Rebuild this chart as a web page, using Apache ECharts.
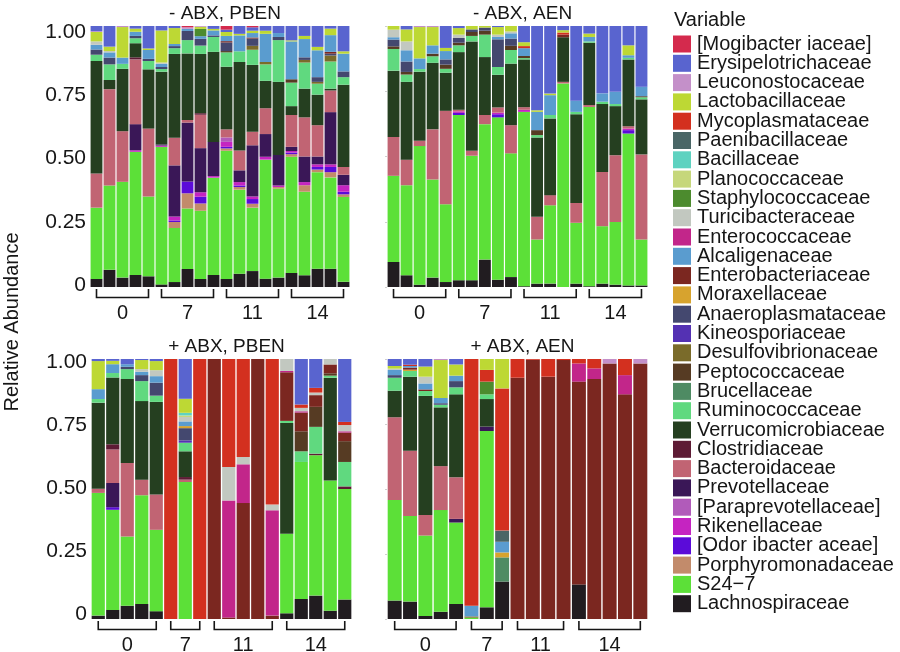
<!DOCTYPE html>
<html>
<head>
<meta charset="utf-8">
<script src="https://cdn.jsdelivr.net/npm/echarts@6/dist/echarts.min.js"></script>
<style>
  html, body { margin: 0; padding: 0; background: #fff; }
  #chart { width: 900px; height: 652px; }
</style>
</head>
<body>
<div id="chart"></div>
<script>
// legend order, top to bottom (bars stack the other way round)
const families = ['[Mogibacter iaceae]', 'Erysipelotrichaceae', 'Leuconostocaceae', 'Lactobacillaceae',
  'Mycoplasmataceae', 'Paenibacillaceae', 'Bacillaceae', 'Planococcaceae', 'Staphylococcaceae',
  'Turicibacteraceae', 'Enterococcaceae', 'Alcaligenaceae', 'Enterobacteriaceae', 'Moraxellaceae',
  'Anaeroplasmataceae', 'Kineosporiaceae', 'Desulfovibrionaceae', 'Peptococcaceae', 'Brucellaceae',
  'Ruminococcaceae', 'Verrucomicrobiaceae', 'Clostridiaceae', 'Bacteroidaceae', 'Prevotellaceae',
  '[Paraprevotellaceae]', 'Rikenellaceae', '[Odor ibacter aceae]', 'Porphyromonadaceae', 'S24\u22127',
  'Lachnospiraceae'];
const keys = ['mogib', 'erysip', 'leuco', 'lacto', 'myco', 'paenib', 'bacill', 'planoc', 'staph',
  'turic', 'enteroc', 'alcali', 'enterob', 'morax', 'anaero', 'kineo', 'desulf', 'pepto', 'brucel',
  'rumino', 'verru', 'clostr', 'bacter', 'prevot', 'parapr', 'riken', 'odori', 'porphy', 's24', 'lachno'];
const colors = ['#D42A4D', '#5964CF', '#C490C9', '#BDD834', '#D3301F', '#4A6666', '#5ED2C0', '#C6D77B',
  '#4C8B2E', '#C2C8C0', '#C2268A', '#5A9CCF', '#7B2720', '#D7A32E', '#44486F', '#5431B3', '#7A6B2A',
  '#563B23', '#4E8B63', '#60D97F', '#253F20', '#5E1B35', '#C16473', '#3A1757', '#B15BBA', '#C524C1',
  '#5B0BD9', '#C28B6B', '#5CE038', '#211C20'];

const dayLabels = ['0', '7', '11', '14'];

// - ABX, PBEN : 5,5,5,5 samples
const tlGroups = [5, 5, 5, 5];
const topLeft = {
  lachno: [0.031,0.066,0.036,0.046,0.041, 0.010,0.019,0.069,0.031,0.046, 0.031,0.051,0.061,0.032,0.036, 0.054,0.045,0.070,0.070,0.020],
  s24:    [0.273,0.323,0.367,0.472,0.306, 0.527,0.207,0.232,0.261,0.373, 0.491,0.322,0.243,0.456,0.341, 0.445,0.320,0.370,0.350,0.325],
  porphy: [0,0,0,0,0, 0,0.023,0.058,0.028,0, 0.009,0.010,0.015,0,0.006, 0.010,0.025,0.010,0.020,0.010],
  odori:  [0,0,0,0,0, 0,0.006,0.045,0.026,0, 0.006,0.006,0.018,0,0, 0.006,0,0.010,0.020,0.010],
  riken:  [0,0,0,0.006,0, 0.005,0.015,0,0.017,0.006, 0.019,0.013,0.010,0.011,0.006, 0.006,0.012,0.010,0.010,0.025],
  parapr: [0,0,0,0,0, 0,0,0,0,0, 0.017,0,0,0,0, 0,0,0,0,0],
  prevot: [0,0,0,0.100,0, 0.004,0.196,0.226,0.169,0.131, 0,0.045,0.196,0.087,0.117, 0.016,0.098,0.030,0.200,0.040],
  bacter: [0.131,0.369,0.194,0.248,0.260, 0,0.106,0.010,0.128,0, 0.031,0.076,0.052,0.099,0, 0.122,0.150,0.120,0.083,0.030],
  clostr: [0,0,0,0.008,0, 0,0,0,0.006,0, 0,0,0,0,0, 0,0,0,0,0],
  verru:  [0.431,0.035,0.239,0.054,0.227, 0.279,0.321,0.255,0.227,0.345, 0.240,0.339,0.256,0.105,0.280, 0.034,0.110,0.117,0.007,0.315],
  rumino: [0.024,0.060,0.019,0.019,0.032, 0.010,0.022,0.051,0.032,0.057, 0.055,0.041,0.058,0.063,0.160, 0.090,0.100,0.042,0.104,0.029],
  pepto:  [0,0,0,0,0, 0,0,0,0,0, 0.005,0,0,0,0, 0.013,0,0,0,0],
  desulf: [0,0,0,0,0, 0,0,0,0,0, 0,0,0.015,0.009,0, 0,0.010,0.007,0.023,0],
  anaero: [0.020,0.026,0,0.009,0.008, 0.008,0.008,0.035,0.026,0.006, 0.033,0,0.028,0,0.012, 0,0.010,0.018,0.007,0.022],
  enterob:[0,0,0,0,0, 0,0,0,0,0, 0.005,0,0.004,0,0, 0,0,0,0.007,0],
  alcali: [0.018,0.020,0.024,0.016,0.034, 0.012,0.008,0.008,0.010,0.019, 0.020,0.061,0.017,0.108,0.015, 0.145,0.070,0.103,0.064,0.068],
  turic:  [0.013,0.005,0,0,0, 0.005,0,0,0,0, 0,0,0,0,0, 0,0,0,0,0],
  staph:  [0,0,0,0,0, 0,0,0,0.028,0, 0,0,0,0,0, 0,0,0,0,0],
  lacto:  [0.036,0.017,0.117,0.012,0.006, 0.123,0.061,0,0.008,0.006, 0.015,0.006,0.009,0.012,0, 0.004,0.012,0.013,0.025,0.009],
  leuco:  [0.003,0,0.004,0,0, 0,0,0.006,0.003,0, 0,0,0,0,0, 0,0,0,0,0],
  erysip: [0.020,0.079,0,0.010,0.086, 0.017,0.008,0,0,0.011, 0.009,0.030,0.013,0.018,0.027, 0.055,0.038,0.080,0.010,0.097],
  mogib:  [0,0,0,0,0, 0,0,0.005,0,0, 0.014,0,0.005,0,0, 0,0,0,0,0]
};

// - ABX, AEN : 5,5,5,5 samples
const trGroups = [5, 5, 5, 5];
const topRight = {
  lachno: [0.096,0.045,0.009,0.036,0.019, 0.026,0.026,0.105,0.028,0.038, 0.003,0.013,0.013,0,0.013, 0.003,0.013,0.009,0.006,0.006],
  s24:    [0.330,0.345,0.531,0.376,0.298, 0.633,0.477,0.519,0.622,0.474, 0.668,0.169,0.300,0.780,0.233, 0.687,0.220,0.240,0.582,0.176],
  odori:  [0,0,0,0,0, 0.008,0,0,0.012,0, 0,0,0,0,0, 0,0,0,0.013,0],
  riken:  [0,0,0,0,0, 0.006,0,0,0.006,0, 0.008,0,0,0,0, 0,0,0,0.006,0],
  bacter: [0.149,0.098,0.020,0.192,0.358, 0.006,0.019,0.035,0.020,0.108, 0.010,0.087,0.039,0.006,0.076, 0.007,0.208,0.256,0.009,0.326],
  verru:  [0.254,0.298,0.265,0.255,0.146, 0.221,0.419,0.222,0.125,0.236, 0.183,0.304,0.294,0.171,0.340, 0.239,0.260,0.188,0.256,0.211],
  rumino: [0.083,0.028,0.010,0.025,0.015, 0.026,0.021,0.086,0.030,0.052, 0.005,0.009,0.013,0,0.009, 0.005,0.009,0.008,0.006,0.008],
  pepto:  [0.010,0.010,0,0.010,0.016, 0.010,0.015,0.015,0,0.016, 0.008,0.019,0,0,0, 0,0,0,0,0.004],
  anaero: [0.026,0.040,0,0,0.020, 0.018,0.010,0.012,0.106,0.028, 0,0,0,0,0, 0,0,0,0,0],
  enterob:[0,0,0,0,0, 0,0,0,0,0, 0,0,0,0.010,0, 0,0,0,0,0],
  alcali: [0.009,0.043,0.041,0.032,0.032, 0,0,0,0.009,0.020, 0.030,0.070,0.076,0,0.043, 0.017,0.032,0.047,0.010,0.036],
  turic:  [0.029,0.034,0,0,0, 0.013,0,0,0.009,0.007, 0,0,0,0,0, 0,0,0,0,0],
  myco:   [0,0,0,0,0, 0,0,0,0,0, 0.008,0,0,0.008,0, 0,0,0,0,0],
  lacto:  [0.014,0.046,0.120,0.070,0.012, 0.025,0.013,0.006,0.029,0.021, 0.015,0.006,0.006,0.009,0, 0.013,0,0,0.038,0],
  leuco:  [0,0,0.004,0.004,0, 0,0,0,0,0, 0,0,0,0,0, 0,0,0,0,0],
  erysip: [0,0.013,0,0,0.084, 0.008,0,0,0.004,0, 0.062,0.323,0.259,0.016,0.286, 0.029,0.258,0.252,0.074,0.233]
};

// + ABX, PBEN : 5,3,5,5 samples
const blGroups = [5, 3, 5, 5];
const bottomLeft = {
  lachno: [0.013,0.035,0.051,0.058,0.030, 0,0,0, 0,0,0,0,0, 0.022,0.077,0.090,0.032,0.075],
  s24:    [0.472,0.385,0.266,0.418,0.313, 0,0.527,0, 0,0,0,0,0, 0.306,0.527,0.540,0.501,0.425],
  odori:  [0,0.010,0,0,0, 0,0,0, 0,0,0,0,0, 0,0,0,0,0],
  prevot: [0,0.093,0,0,0, 0,0,0, 0,0,0,0,0, 0,0,0,0,0],
  bacter: [0.016,0.129,0.283,0.060,0.136, 0,0.009,0, 0,0,0,0,0, 0,0,0,0,0],
  clostr: [0,0.020,0,0,0, 0,0.010,0, 0,0,0,0,0, 0,0,0.006,0,0.010],
  verru:  [0.331,0.257,0.323,0.302,0.356, 0,0.099,0, 0,0,0,0,0, 0.426,0,0,0.395,0],
  rumino: [0.014,0.017,0.038,0.077,0.024, 0,0.033,0, 0,0,0,0,0, 0.008,0.041,0.103,0.008,0.094],
  pepto:  [0,0,0,0,0, 0,0,0, 0,0,0,0,0, 0,0.077,0.077,0.009,0.080],
  kineo:  [0,0,0,0,0, 0,0.009,0, 0,0,0,0,0, 0,0,0,0,0],
  anaero: [0,0,0.009,0.023,0.050, 0,0.047,0, 0,0,0,0,0, 0,0,0,0,0],
  morax:  [0,0,0,0,0, 0,0.008,0, 0,0,0,0,0, 0,0,0,0,0],
  enterob:[0,0,0,0,0, 0,0,0, 1,0.006,0.446,1,0.013, 0.187,0.072,0.045,0.034,0.033],
  alcali: [0.038,0.034,0.010,0.013,0.025, 0,0.018,0, 0,0,0,0,0, 0,0,0,0,0],
  enteroc:[0,0,0,0,0, 0,0,0, 0,0.450,0.149,0,0.405, 0.005,0.005,0,0,0.005],
  turic:  [0,0,0,0.010,0.023, 0,0.017,0, 0,0.129,0.028,0,0.022, 0.046,0.013,0.010,0.021,0.024],
  planoc: [0,0,0,0,0, 0,0.006,0, 0,0,0,0,0, 0,0,0,0,0],
  bacill: [0,0,0,0,0, 0,0.010,0, 0,0,0,0,0, 0,0,0,0,0],
  myco:   [0,0,0,0,0, 1,0,1, 0,0.415,0.377,0,0.560, 0,0.013,0.018,0,0.012],
  lacto:  [0.108,0.013,0,0.035,0.035, 0,0.054,0, 0,0,0,0,0, 0,0,0,0,0],
  erysip: [0.008,0.007,0.020,0.004,0.008, 0,0.153,0, 0,0,0,0,0, 0,0.175,0.111,0,0.242]
};

// + ABX, AEN : 5,3,4,5 samples
const brGroups = [5, 3, 4, 5];
const bottomRight = {
  lachno: [0.071,0.067,0.012,0.028,0.058, 0,0.045,0.144, 0,0,0,0, 0.133,0,0,0,0],
  s24:    [0.387,0.329,0.309,0.391,0.313, 0.005,0.678,0, 0,0,0,0, 0,0,0,0,0],
  prevot: [0,0,0,0,0.014, 0,0.017,0, 0,0,0,0, 0,0,0,0,0],
  bacter: [0.318,0.251,0.079,0.169,0.160, 0,0,0, 0,0,0,0, 0,0,0,0,0],
  verru:  [0.102,0.285,0.458,0.226,0.319, 0,0.106,0, 0,0,0,0, 0,0,0,0,0],
  rumino: [0.050,0.022,0.019,0.010,0.027, 0,0.018,0, 0,0,0,0, 0,0,0,0,0],
  brucel: [0,0,0,0,0, 0,0,0.093, 0,0,0,0, 0,0,0,0,0],
  desulf: [0,0,0,0,0, 0.005,0,0, 0,0,0,0, 0,0,0,0,0],
  anaero: [0.010,0,0,0.006,0.024, 0,0,0, 0,0,0,0, 0,0,0,0,0],
  morax:  [0,0.005,0,0,0, 0,0,0.019, 0,0,0,0, 0,0,0,0,0],
  enterob:[0,0.008,0.006,0,0, 0,0,0, 0.928,0.997,0.932,0.996, 0.780,0.923,0.983,0.864,0.983],
  alcali: [0.020,0.006,0.023,0.020,0.021, 0.041,0,0.041, 0,0,0,0, 0,0,0,0,0],
  enteroc:[0,0,0,0,0, 0,0,0, 0,0,0,0, 0.070,0.041,0,0.074,0],
  turic:  [0.005,0,0.026,0,0, 0,0,0, 0,0,0,0, 0,0,0,0,0],
  staph:  [0,0,0,0,0, 0,0.049,0, 0,0,0,0, 0,0,0,0,0],
  paenib: [0,0,0,0,0, 0,0,0.043, 0,0,0,0, 0,0,0,0,0],
  myco:   [0,0.005,0,0,0, 0.949,0.045,0.547, 0.072,0.003,0.068,0.004, 0.017,0.036,0,0.062,0],
  lacto:  [0.010,0,0.039,0.146,0.043, 0,0.042,0.113, 0,0,0,0, 0,0,0,0,0],
  leuco:  [0,0,0,0.004,0, 0,0,0, 0,0,0,0, 0,0,0.017,0,0.017],
  erysip: [0.027,0.022,0.029,0,0.021, 0,0,0, 0,0,0,0, 0,0,0,0,0]
};

const FONT = "'Liberation Sans', Arial, Helvetica, sans-serif";
const INK = '#161616';

// labelGrid: where the printed 0 ... 1.00 labels sit (slightly inside the bar area in the figure)
const panels = [
  { title: '- ABX, PBEN', data: topLeft, groups: tlGroups, grid: { left: 90, top: 26, width: 260, height: 261 },
    labelGrid: { left: 90, top: 32, width: 260, height: 253 }, titleTop: -1 },
  { title: '- ABX, AEN', data: topRight, groups: trGroups, grid: { left: 387, top: 26, width: 261, height: 261 },
    labelGrid: null, titleTop: -1 },
  { title: '+ ABX, PBEN', data: bottomLeft, groups: blGroups, grid: { left: 91, top: 359, width: 261, height: 260 },
    labelGrid: { left: 91, top: 362, width: 261, height: 252 }, titleTop: 332 },
  { title: '+ ABX, AEN', data: bottomRight, groups: brGroups, grid: { left: 387, top: 359, width: 261, height: 260 },
    labelGrid: null, titleTop: 332 }
];

const grids = [], xAxes = [], yAxes = [], series = [];
const titles = [{
  text: 'Variable', left: 669, top: 5,
  textStyle: { fontFamily: FONT, fontSize: 20, fontWeight: 'normal', color: INK }
}];

panels.forEach(function (p, pi) {
  const n = p.groups.reduce(function (a, b) { return a + b; }, 0);
  const cats = [];
  const spans = [];
  let start = 0;
  p.groups.forEach(function (g, gi) {
    for (let k = 0; k < g; k++) cats.push(dayLabels[gi] + '_' + (k + 1));
    spans.push([start, start + g - 1, dayLabels[gi]]);
    start += g;
  });

  const gi = grids.length;
  grids.push(Object.assign({ containLabel: false }, p.grid));
  titles.push({
    text: p.title, left: p.grid.left + p.grid.width / 2, top: p.titleTop, textAlign: 'center',
    textStyle: { fontFamily: FONT, fontSize: 19, fontWeight: 'normal', color: INK }
  });
  const xi = xAxes.length;
  xAxes.push({
    gridIndex: gi, type: 'category', data: cats,
    axisLine: { show: false }, axisTick: { show: false }, axisLabel: { show: false }
  });
  const yi = yAxes.length;
  yAxes.push({
    gridIndex: gi, type: 'value', min: 0, max: 1, interval: 0.25,
    splitLine: { show: false }, axisLine: { show: false },
    axisTick: { show: !p.labelGrid, length: 2, lineStyle: { color: '#cfcfcf' } },
    axisLabel: { show: false }
  });

  if (p.labelGrid) {
    const lg = grids.length;
    grids.push(Object.assign({ containLabel: false }, p.labelGrid));
    xAxes.push({ gridIndex: lg, type: 'category', data: cats, show: false });
    yAxes.push({
      gridIndex: lg, type: 'value', min: 0, max: 1, interval: 0.25,
      splitLine: { show: false }, axisLine: { show: false }, axisTick: { show: false },
      axisLabel: {
        margin: 4, fontFamily: FONT, fontSize: 21, color: INK,
        formatter: function (v) { return v === 0 ? '0' : v.toFixed(2); }
      }
    });
  }

  // bottom of the stack first: Lachnospiraceae ... [Mogibacter iaceae]
  for (let f = keys.length - 1; f >= 0; f--) {
    const vals = p.data[keys[f]] || new Array(n).fill(0);
    series.push({
      name: families[f], type: 'bar', xAxisIndex: xi, yAxisIndex: yi,
      stack: 'panel' + pi, data: vals, barCategoryGap: '9%',
      itemStyle: { color: colors[f] }, silent: true
    });
  }

  // day brackets under each panel
  series.push({
    type: 'custom', xAxisIndex: xi, yAxisIndex: yi, data: spans, clip: false, silent: true,
    renderItem: function (params, api) {
      const a = api.coord([api.value(0), 0]);
      const b = api.coord([api.value(1), 0]);
      const y = a[1];
      const label = spans[params.dataIndex][2];
      return {
        type: 'group',
        children: [{
          type: 'polyline',
          shape: { points: [[a[0], y + 2], [a[0], y + 10.5], [b[0], y + 10.5], [b[0], y + 2]] },
          style: { stroke: INK, lineWidth: 1.6, fill: null }
        }, {
          type: 'text',
          style: {
            text: label, x: (a[0] + b[0]) / 2, y: y + 26, align: 'center', verticalAlign: 'middle',
            fontFamily: FONT, fontSize: 20, fill: INK
          }
        }]
      };
    }
  });
});

const chart = echarts.init(document.getElementById('chart'));
chart.setOption({
  animation: false,
  backgroundColor: '#ffffff',
  title: titles,
  grid: grids,
  xAxis: xAxes,
  yAxis: yAxes,
  legend: {
    data: families, orient: 'vertical', left: 673, top: 34, padding: 0,
    itemWidth: 18, itemHeight: 17, itemGap: -0.7, icon: 'rect', selectedMode: false,
    textStyle: { fontFamily: FONT, fontSize: 20, color: INK, padding: [0, 0, 0, 1] }
  },
  graphic: [{
    type: 'text', x: 12, y: 322, rotation: Math.PI / 2,
    style: {
      text: 'Relative Abundance', align: 'center', verticalAlign: 'middle',
      fontFamily: FONT, fontSize: 20, fill: INK
    }
  }],
  series: series
});
</script>
</body>
</html>
